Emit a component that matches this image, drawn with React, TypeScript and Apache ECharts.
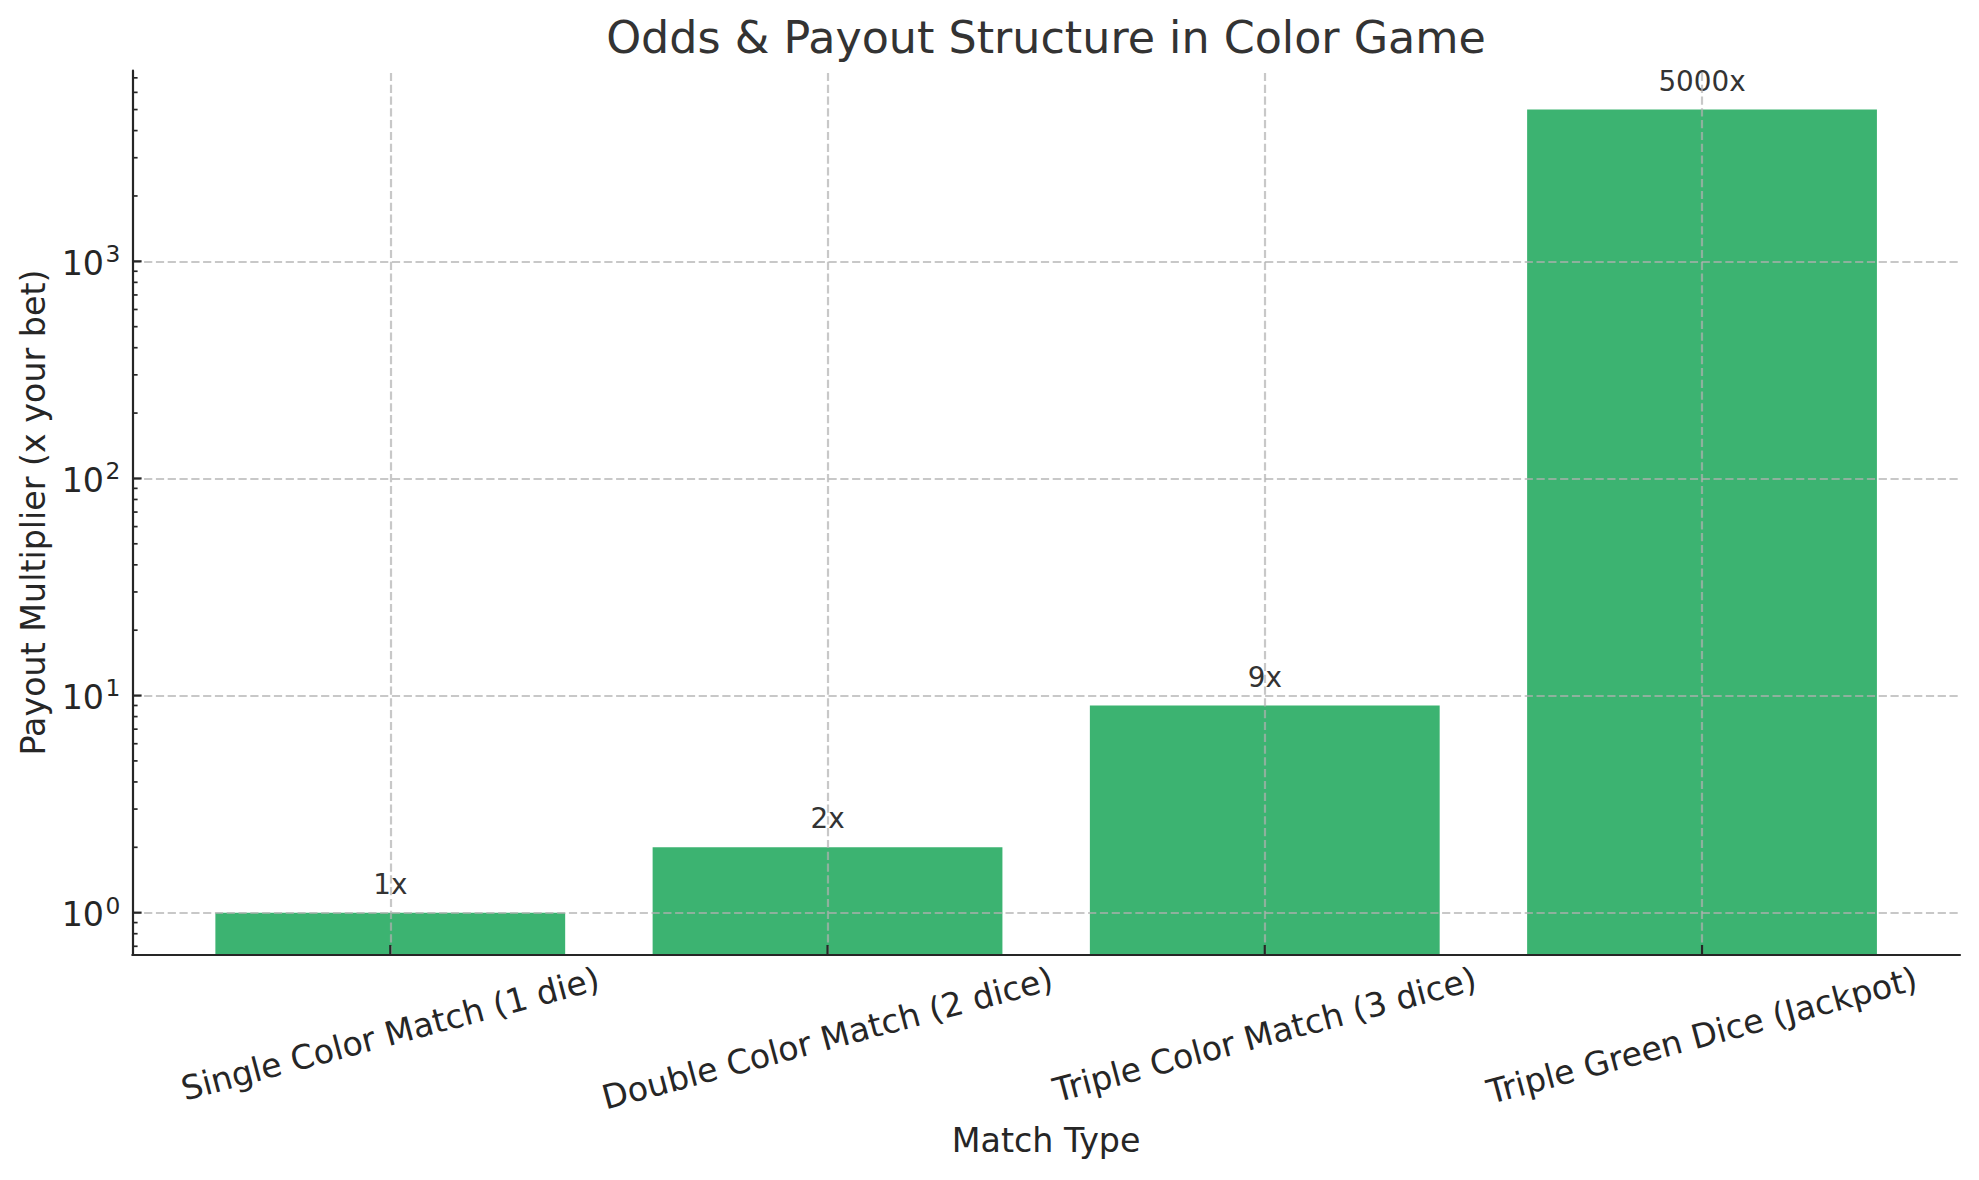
import React, { useEffect, useRef } from "react";
import * as echarts from "echarts";

const categories = [
  "Single Color Match (1 die)",
  "Double Color Match (2 dice)",
  "Triple Color Match (3 dice)",
  "Triple Green Dice (Jackpot)",
];
const payouts = [1, 2, 9, 5000];
const payoutLabels = ["1x", "2x", "9x", "5000x"];
const yMajorTicks = [1, 10, 100, 1000];
const yTickExponents = ["0", "1", "2", "3"];
const yMinorTicks = [
  0.7, 0.8, 0.9,
  2, 3, 4, 5, 6, 7, 8, 9,
  20, 30, 40, 50, 60, 70, 80, 90,
  200, 300, 400, 500, 600, 700, 800, 900,
  2000, 3000, 4000, 5000, 6000, 7000,
];
const xRange = [-0.59, 3.59];
const yRange = [0.643, 7550];

const FONT = '"DejaVu Sans", "Liberation Sans", sans-serif';
const AXIS_COLOR = "#262626";
const TEXT_COLOR = "#262626";
const GRID_COLOR = "rgba(176,176,176,0.7)";
const BAR_COLOR = "#3CB371";
const TICK_FS = 33.3;
const SUP_FS = 23.3;
const LINE_H = 38.8;

let measureCtx: CanvasRenderingContext2D | null = null;
function textWidth(s: string, size: number) {
  if (!measureCtx) measureCtx = document.createElement("canvas").getContext("2d");
  measureCtx!.font = `${size}px "DejaVu Sans"`;
  return measureCtx!.measureText(s).width;
}

export default function App() {
  const ref = useRef<HTMLDivElement>(null);

  useEffect(() => {
    if (!ref.current) return;
    const chart = echarts.init(ref.current, null, { renderer: "svg" });
    const theta = (15 * Math.PI) / 180;

    const option: any = {
      animation: false,
      backgroundColor: "#ffffff",
      title: {
        text: "Odds & Payout Structure in Color Game",
        left: 1046,
        top: 15,
        textAlign: "center",
        padding: 0,
        textStyle: {
          fontSize: 44.4,
          fontWeight: "normal",
          color: "#333333",
          fontFamily: FONT,
        },
      },
      grid: {
        left: 132.3,
        right: 19,
        top: 70.7,
        bottom: 225.7,
        containLabel: false,
        outerBoundsMode: "none",
      },
      xAxis: {
        type: "value",
        min: xRange[0],
        max: xRange[1],
        z: 10,
        axisLine: { show: true, onZero: false, lineStyle: { color: AXIS_COLOR, width: 2.2 } },
        axisTick: { show: false },
        axisLabel: { show: false },
        splitLine: { show: false },
        name: "Match Type",
        nameLocation: "middle",
        nameGap: 170,
        nameTextStyle: { fontSize: TICK_FS, color: TEXT_COLOR, fontFamily: FONT },
      },
      yAxis: {
        type: "log",
        logBase: 10,
        min: yRange[0],
        max: yRange[1],
        startValue: yRange[0],
        z: 10,
        axisLine: { show: true, onZero: false, lineStyle: { color: AXIS_COLOR, width: 2.2 } },
        axisTick: { show: false },
        axisLabel: { show: false },
        splitLine: { show: false },
        name: "Payout Multiplier (x your bet)",
        nameLocation: "middle",
        nameRotate: 90,
        nameGap: 82.6,
        nameTextStyle: { fontSize: TICK_FS, color: TEXT_COLOR, fontFamily: FONT },
      },
      series: [
        {
          type: "bar",
          data: payouts.map((v, i) => [i, v]),
          barWidth: "80%",
          itemStyle: { color: BAR_COLOR },
          label: {
            show: true,
            position: "top",
            distance: 14.4,
            formatter: (p: any) => payoutLabels[p.dataIndex],
            fontSize: 27.8,
            color: "#333333",
            fontFamily: FONT,
          },
          markLine: {
            silent: true,
            symbol: ["none", "none"],
            label: { show: false },
            animation: false,
            lineStyle: { type: [8.2, 3.6], color: GRID_COLOR, width: 2.2 },
            emphasis: { disabled: true },
            data: [
              ...yMajorTicks.map((v) => ({ yAxis: v })),
              ...categories.map((_, i) => ({ xAxis: i })),
            ],
          },
        },
        {
          type: "custom",
          name: "yTicks",
          z: 6,
          silent: true,
          data: [
            ...yMajorTicks.map((v) => [0, v, 1]),
            ...yMinorTicks.map((v) => [0, v, 0]),
          ],
          renderItem: (params: any, api: any) => {
            const p = api.coord([api.value(0), api.value(1)]);
            const x0 = params.coordSys.x;
            const major = api.value(2) === 1;
            const len = major ? 9.3 : 5.3;
            return {
              type: "line",
              shape: { x1: x0, y1: p[1], x2: x0 + len, y2: p[1] },
              style: { stroke: AXIS_COLOR, lineWidth: major ? 2.2 : 1.7 },
            };
          },
        },
        {
          type: "custom",
          name: "yLabels",
          z: 6,
          silent: true,
          data: yMajorTicks.map((v) => [0, v]),
          renderItem: (params: any, api: any) => {
            const p = api.coord([api.value(0), api.value(1)]);
            const x0 = params.coordSys.x;
            const baseRight = x0 - 28.3;
            return {
              type: "group",
              children: [
                {
                  type: "text",
                  x: baseRight,
                  y: p[1] + 2,
                  style: {
                    text: "10",
                    fontSize: TICK_FS,
                    fontFamily: FONT,
                    fill: TEXT_COLOR,
                    align: "right",
                    verticalAlign: "middle",
                  },
                },
                {
                  type: "text",
                  x: baseRight + 1.5,
                  y: p[1] - 7.6,
                  style: {
                    text: yTickExponents[params.dataIndex],
                    fontSize: SUP_FS,
                    fontFamily: FONT,
                    fill: TEXT_COLOR,
                    align: "left",
                    verticalAlign: "middle",
                  },
                },
              ],
            };
          },
        },
        {
          type: "custom",
          name: "xTicks",
          z: 6,
          silent: true,
          data: categories.map((_, i) => [i, yRange[0]]),
          renderItem: (params: any, api: any) => {
            const p = api.coord([api.value(0), api.value(1)]);
            const cs = params.coordSys;
            const bottom = cs.y + cs.height;
            const text = categories[params.dataIndex];
            const w = textWidth(text, TICK_FS);
            const bh = w * Math.sin(theta) + LINE_H * Math.cos(theta);
            return {
              type: "group",
              children: [
                {
                  type: "line",
                  shape: { x1: p[0], y1: bottom, x2: p[0], y2: bottom - 9.3 },
                  style: { stroke: AXIS_COLOR, lineWidth: 2.2 },
                },
                {
                  type: "text",
                  x: p[0],
                  y: bottom + 5 + bh / 2,
                  rotation: theta,
                  style: {
                    text,
                    fontSize: TICK_FS,
                    fontFamily: FONT,
                    fill: TEXT_COLOR,
                    align: "center",
                    verticalAlign: "middle",
                  },
                },
              ],
            };
          },
        },
      ],
    };

    chart.setOption(option);
    return () => chart.dispose();
  }, []);

  return (
    <div
      ref={ref}
      style={{
        position: "absolute",
        left: 0,
        top: 0,
        width: 1979,
        height: 1180,
        background: "#ffffff",
      }}
    />
  );
}
